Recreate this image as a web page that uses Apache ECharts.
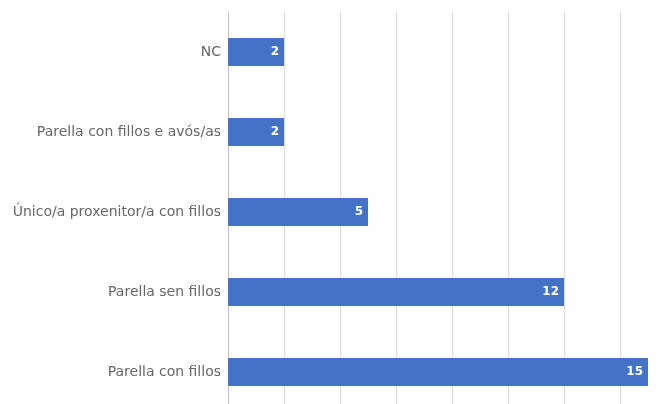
<!DOCTYPE html>
<html>
<head>
<meta charset="utf-8">
<script src="https://cdn.jsdelivr.net/npm/echarts@6/dist/echarts.min.js"></script>
<style>html,body{margin:0;padding:0;background:#fff}#c{width:669px;height:404px}</style>
</head>
<body>
<div id="c"></div>
<script>
const categories = ["NC", "Parella con fillos e avós/as", "Único/a proxenitor/a con fillos", "Parella sen fillos", "Parella con fillos"];
const values = [2, 2, 5, 12, 15];

const chart = echarts.init(document.getElementById('c'));
chart.setOption({
  animation: false,
  grid: { left: 228, top: 12, right: -7, bottom: -8, outerBoundsMode: 'none' },
  xAxis: {
    type: 'value', min: 0, max: 16, interval: 2,
    axisLabel: { show: false },
    axisLine: { show: false }, axisTick: { show: false },
    splitLine: { lineStyle: { color: '#d9d9d9', width: 1 } }
  },
  yAxis: {
    type: 'category', data: categories, inverse: true,
    axisLine: { show: true, lineStyle: { color: '#bfbfbf' } },
    axisTick: { show: false },
    axisLabel: { color: '#666666', fontSize: 14, fontFamily: 'DejaVu Sans', margin: 7 }
  },
  series: [{
    type: 'bar', data: values, barWidth: '35%',
    itemStyle: { color: '#4472C4' },
    label: { show: true, position: 'insideRight', color: '#fff', fontWeight: 'bold', fontSize: 12, fontFamily: 'DejaVu Sans', distance: 5 }
  }]
});
</script>
</body>
</html>
